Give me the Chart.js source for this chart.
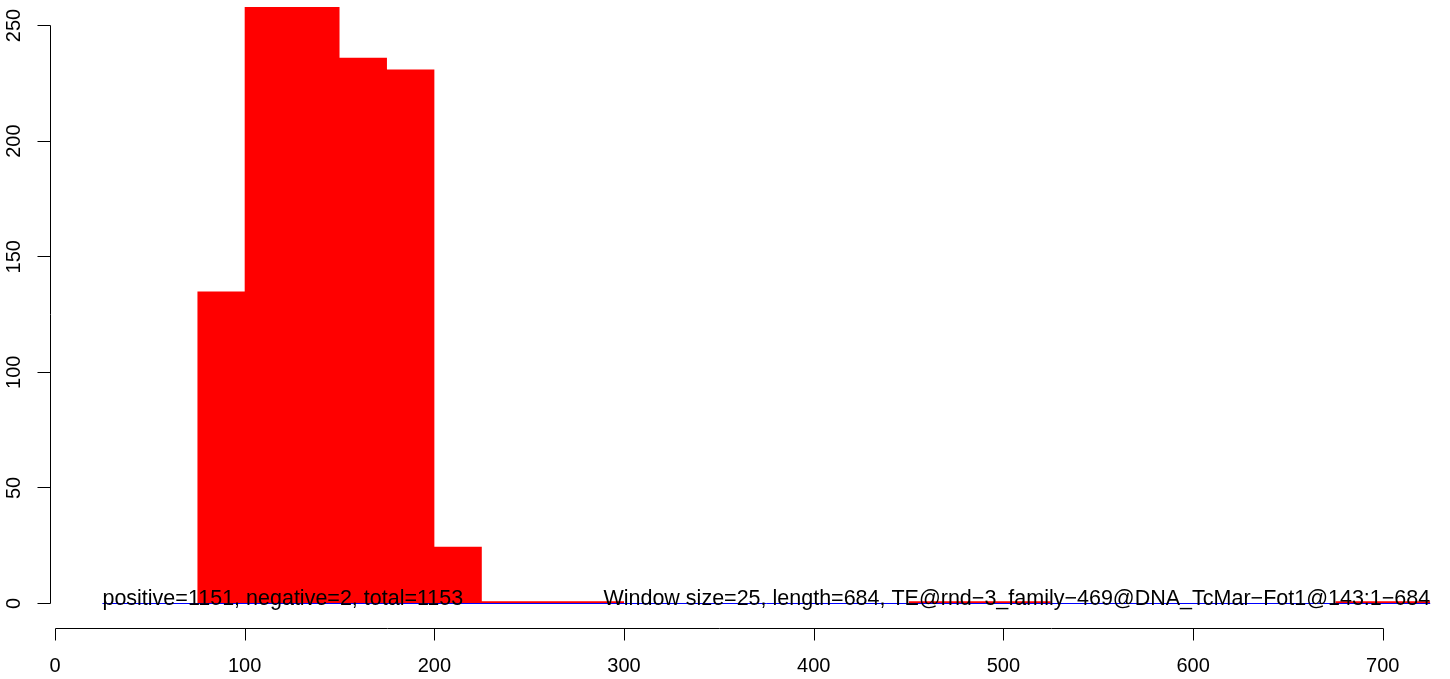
<!DOCTYPE html>
<html>
<head>
<meta charset="utf-8">
<script src="https://cdn.jsdelivr.net/npm/chart.js@4/dist/chart.umd.min.js"></script>
<style>
html,body{margin:0;padding:0;background:#fff;}
#wrap{width:1450px;height:679px;position:relative;}
</style>
</head>
<body>
<div id="wrap"><canvas id="c" width="1450" height="679"></canvas></div>
<script>
// Data (window size 25)
const binStarts = [75, 100, 125, 150, 175, 200, 225, 250, 275, 450, 475, 500, 675, 700];
const posValues = [135, 258, 258, 236, 231, 24.5, 1, 1, 1, 1, 1, 1, 1, 1];
const binWidth = 25;
const negX = [25, 725];
const negValues = [0, 0];
const xTicks = [0, 100, 200, 300, 400, 500, 600, 700];
const yTicks = [0, 50, 100, 150, 200, 250];
const leftNote = "positive=1151, negative=2, total=1153";
const rightNote = "Window size=25, length=684, TE@rnd\u22123_family\u2212469@DNA_TcMar\u2212Fot1@143:1\u2212684";

// build step-area points from bins
const posPoints = [];
for (let i = 0; i < binStarts.length; i++) {
  const s = binStarts[i];
  if (i > 0 && binStarts[i - 1] + binWidth !== s) {
    posPoints.push({x: (binStarts[i - 1] + binWidth + s) / 2, y: null});
  }
  posPoints.push({x: s, y: posValues[i]});
  posPoints.push({x: s + binWidth, y: posValues[i]});
}
const negPoints = negX.map((x, i) => ({x: x, y: negValues[i]}));

const FONT = '"Liberation Sans", Arial, Helvetica, sans-serif';

const rAxes = {
  id: 'rAxes',
  afterDraw(chart) {
    const ctx = chart.ctx;
    const xs = chart.scales.x, ys = chart.scales.y;
    ctx.save();
    ctx.strokeStyle = '#000';
    ctx.fillStyle = '#000';
    ctx.lineWidth = 1;
    // y axis
    const yAxisX = 50.5;
    ctx.beginPath();
    ctx.moveTo(yAxisX, Math.floor(ys.getPixelForValue(yTicks[0])) + 0.5);
    ctx.lineTo(yAxisX, Math.floor(ys.getPixelForValue(yTicks[yTicks.length - 1])) + 0.5);
    yTicks.forEach(v => {
      const py = Math.floor(ys.getPixelForValue(v)) + 0.5;
      ctx.moveTo(yAxisX, py);
      ctx.lineTo(yAxisX - 13, py);
    });
    ctx.stroke();
    ctx.font = '20px ' + FONT;
    ctx.textAlign = 'center';
    ctx.textBaseline = 'middle';
    yTicks.forEach(v => {
      const py = ys.getPixelForValue(v);
      ctx.save();
      ctx.translate(14, py);
      ctx.rotate(-Math.PI / 2);
      ctx.fillText(String(v), 0, 0);
      ctx.restore();
    });
    // x axis
    const xAxisY = 628.5;
    ctx.beginPath();
    ctx.moveTo(Math.round(xs.getPixelForValue(xTicks[0])) + 0.5, xAxisY);
    ctx.lineTo(Math.round(xs.getPixelForValue(xTicks[xTicks.length - 1])) + 0.5, xAxisY);
    xTicks.forEach(v => {
      const px = Math.round(xs.getPixelForValue(v)) + 0.5;
      ctx.moveTo(px, xAxisY);
      ctx.lineTo(px, xAxisY + 12);
    });
    ctx.stroke();
    ctx.textBaseline = 'middle';
    xTicks.forEach(v => {
      ctx.fillText(String(v), xs.getPixelForValue(v), 666);
    });
    // notes
    ctx.font = '21.5px ' + FONT;
    const y0 = ys.getPixelForValue(0) - 4;
    ctx.textAlign = 'left';
    ctx.fillText(leftNote, xs.getPixelForValue(negX[0]), y0);
    ctx.textAlign = 'right';
    ctx.fillText(rightNote, xs.getPixelForValue(negX[1]), y0);
    ctx.restore();
  }
};

new Chart(document.getElementById('c'), {
  type: 'line',
  data: {
    datasets: [
      {
        label: 'negative',
        data: negPoints,
        borderColor: '#0000ff',
        borderWidth: 1,
        pointRadius: 0,
        fill: false,
        clip: false,
        order: 0
      },
      {
        label: 'positive',
        data: posPoints,
        borderColor: 'rgba(0,0,0,0)',
        borderWidth: 0,
        backgroundColor: '#ff0000',
        pointRadius: 0,
        fill: 'origin',
        spanGaps: false,
        order: 1
      }
    ]
  },
  options: {
    responsive: false,
    animation: false,
    events: [],
    layout: {padding: {left: 55, right: 16, top: 7, bottom: 75.5}},
    plugins: {legend: {display: false}, tooltip: {enabled: false}},
    scales: {
      x: {type: 'linear', min: 0, max: 727, display: false},
      y: {type: 'linear', min: 0, max: 258, display: false}
    }
  },
  plugins: [rAxes]
});
</script>
</body>
</html>
